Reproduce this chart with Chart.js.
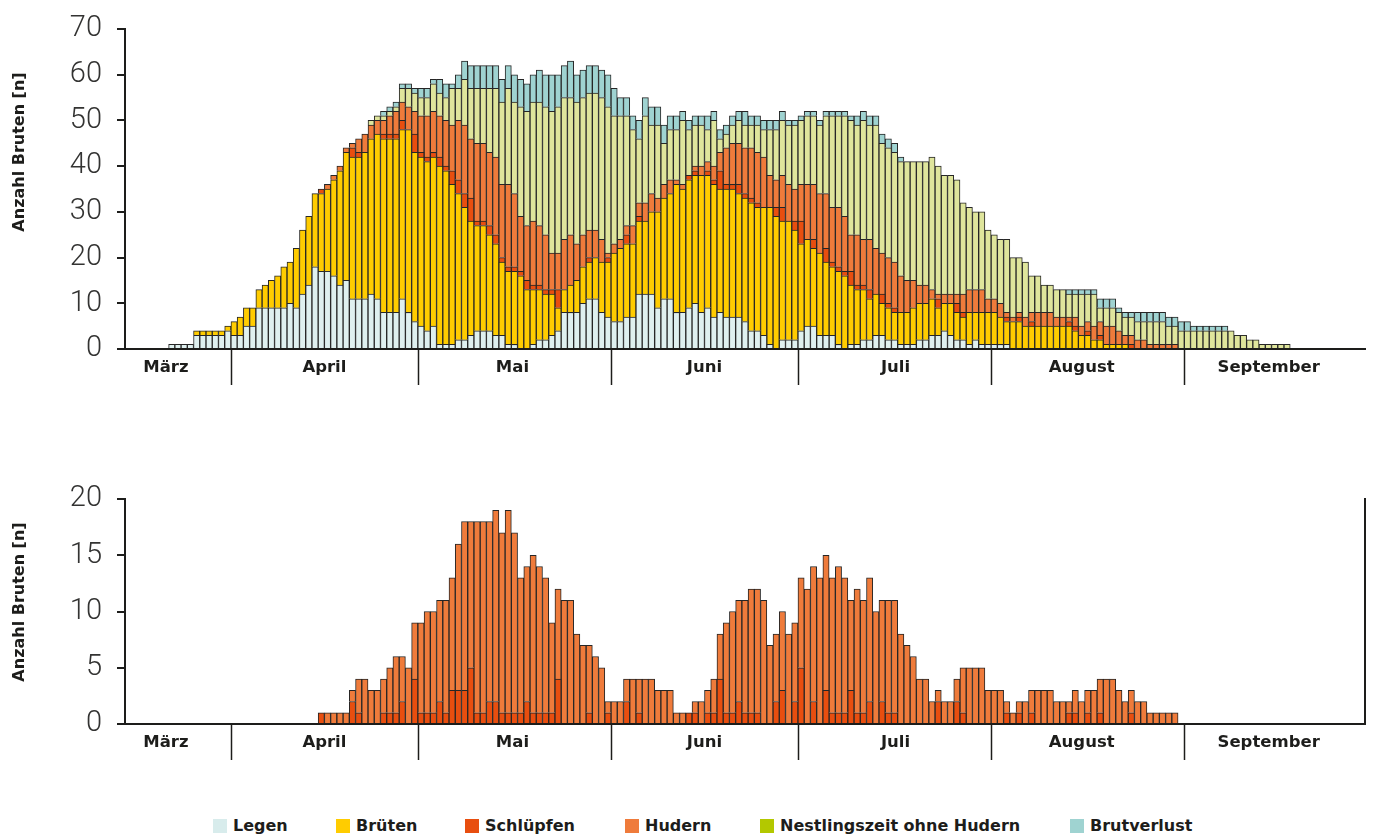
<!DOCTYPE html>
<html>
<head>
<meta charset="utf-8">
<title>Brutphasen</title>
<script src="https://cdn.jsdelivr.net/npm/chart.js"></script>
<style>
  body { margin: 0; background: #fff; width: 1373px; height: 837px; overflow: hidden; position: relative; font-family: 'DejaVu Sans', sans-serif; }
  .box { position: absolute; left: 0; width: 1373px; }
  #topBox { top: 0; height: 400px; }
  #bottomBox { top: 420px; height: 380px; }
  .item { position: absolute; top: 816px; display: flex; align-items: center; font-weight: 700; font-size: 16px; color: #1d1d1b; white-space: nowrap; }
  .sw { width: 14px; height: 14px; margin-right: 6px; }
</style>
</head>
<body>
<div class="box" id="topBox"><canvas id="topChart"></canvas></div>
<div class="box" id="bottomBox"><canvas id="bottomChart"></canvas></div>
<div id="legend"></div>

<script>
// Months shown on the axis (15 March .. 29 September, one bar per day)
const months = ['März', 'April', 'Mai', 'Juni', 'Juli', 'August', 'September'];
const monthFirstDay = [15, 1, 1, 1, 1, 1, 1];
const monthDays = [17, 30, 31, 30, 31, 31, 29];

// Number of broods per day and phase
const legen = [
  0,0,0,0,0,0,0,1,1,1, 1,3,3,3,3,3,4,3,3,5, 5,9,9,9,9,9,10,9,12,14,
  18,17,17,16,14,15,11,11,11,12, 11,8,8,8,11,8,6,5,4,5, 1,1,1,2,2,3,4,4,4,3,
  3,1,1,0,0,1,2,2,3,4, 8,8,8,10,11,11,8,7,6,6, 7,7,12,12,12,9,11,11,8,8,
  9,10,8,9,7,8,7,7,7,6, 4,4,3,1,0,2,2,2,4,5, 5,3,3,3,1,0,1,1,2,2,
  3,3,2,2,1,1,1,2,2,3, 3,4,3,2,2,1,2,1,1,1, 1,1,0,0,0,0,0,0,0,0,
  0,0,0,0,0,0,0,0,0,0, 0,0,0,0,0,0,0,0,0,0, 0,0,0,0,0,0,0,0,0,0,
  0,0,0,0,0,0,0,0,0,0, 0,0,0,0,0,0,0,0,0
];
const brueten = [
  0,0,0,0,0,0,0,0,0,0, 0,1,1,1,1,1,1,3,4,4, 4,4,5,6,7,9,9,13,14,15,
  16,17,18,21,25,28,31,31,32,34, 36,38,38,38,37,40,37,37,37,37, 39,38,35,32,29,25,23,23,21,20,
  16,16,16,16,13,12,11,10,9,5, 5,6,7,8,8,9,11,12,15,16, 16,16,16,16,18,21,22,23,28,27,
  28,28,30,29,29,27,28,28,27,27, 28,27,28,30,29,26,26,24,19,19, 17,18,16,15,16,16,13,12,11,9,
  9,7,7,6,7,7,8,8,8,8, 6,6,7,6,5,7,6,7,7,7, 6,5,6,6,5,5,5,5,5,5,
  5,5,4,3,3,2,2,1,1,1, 1,0,0,0,0,0,0,0,0,0, 0,0,0,0,0,0,0,0,0,0,
  0,0,0,0,0,0,0,0,0,0, 0,0,0,0,0,0,0,0,0
];
const schluepfen = [
  0,0,0,0,0,0,0,0,0,0, 0,0,0,0,0,0,0,0,0,0, 0,0,0,0,0,0,0,0,0,0,
  0,1,0,0,0,0,2,1,0,0, 0,1,1,1,2,0,4,1,1,1, 2,1,3,3,3,5,1,1,2,2,
  1,1,1,1,2,1,1,1,1,4, 0,0,0,0,1,0,0,1,0,0, 2,0,1,0,0,0,0,0,0,0,
  1,1,0,1,1,4,1,1,2,1, 1,1,0,0,2,3,0,2,5,0, 2,0,3,1,1,1,3,1,1,2,
  0,2,1,1,0,0,0,0,0,0, 2,0,0,2,1,0,0,0,0,0, 0,1,0,1,0,1,0,0,0,0,
  0,1,1,0,1,0,1,0,0,0, 0,1,0,0,0,0,0,0,0,0, 0,0,0,0,0,0,0,0,0,0,
  0,0,0,0,0,0,0,0,0,0, 0,0,0,0,0,0,0,0,0
];
const hudern = [
  0,0,0,0,0,0,0,0,0,0, 0,0,0,0,0,0,0,0,0,0, 0,0,0,0,0,0,0,0,0,0,
  0,0,1,1,1,1,1,3,4,3, 3,3,4,5,4,5,5,8,9,9, 9,10,10,13,15,13,17,17,16,17,
  16,18,16,12,12,14,13,12,8,8, 11,11,8,7,6,6,5,1,2,2, 2,4,3,4,4,3,3,3,1,1,
  0,1,2,2,3,4,8,9,9,10, 11,11,11,7,6,7,8,7,8,12, 12,13,12,12,13,12,8,11,10,11,
  10,9,10,10,8,7,6,4,4,2, 1,2,2,2,4,5,5,5,3,3, 3,1,1,1,2,2,3,3,3,2,
  2,1,2,2,2,3,3,4,4,3, 2,2,2,2,1,1,1,1,1,0, 0,0,0,0,0,0,0,0,0,0,
  0,0,0,0,0,0,0,0,0,0, 0,0,0,0,0,0,0,0,0
];
const nestling = [
  0,0,0,0,0,0,0,0,0,0, 0,0,0,0,0,0,0,0,0,0, 0,0,0,0,0,0,0,0,0,0,
  0,0,0,0,0,0,0,0,0,1, 1,1,1,1,3,4,4,4,4,6, 5,5,8,7,10,11,12,12,14,15,
  18,21,20,24,25,26,27,28,31,32, 31,30,31,30,30,30,31,32,28,27, 24,21,14,19,15,16,9,11,11,14,
  10,9,9,7,10,3,3,4,5,5, 5,6,6,10,11,12,13,14,14,15, 15,15,17,20,20,22,25,24,26,25,
  27,24,24,24,25,26,26,27,27,29, 28,26,26,25,20,18,17,17,15,14, 14,16,13,12,12,8,8,6,6,6,
  6,5,5,7,6,7,3,4,4,4, 4,4,4,4,5,5,5,4,4,4, 4,4,4,4,4,4,4,4,3,3,
  2,2,1,1,1,1,1,0,0,0, 0,0,0,0,0,0,0,0,0
];
const brutverlust = [
  0,0,0,0,0,0,0,0,0,0, 0,0,0,0,0,0,0,0,0,0, 0,0,0,0,0,0,0,0,0,0,
  0,0,0,0,0,0,0,0,0,0, 0,1,1,1,1,1,1,2,2,1, 3,3,1,3,4,5,5,5,5,5,
  5,5,6,6,6,6,7,7,8,7, 7,8,6,6,6,6,6,7,6,4, 4,3,4,4,4,4,4,3,3,2,
  2,2,2,3,2,2,2,2,2,3, 2,2,2,2,2,2,1,1,1,1, 1,1,1,1,1,1,1,2,2,2,
  2,2,2,2,1,0,0,0,0,0, 0,0,0,0,0,0,0,0,0,0, 0,0,0,0,0,0,0,0,0,0,
  0,1,1,1,1,1,2,2,2,1, 1,1,2,2,2,2,2,2,2,2, 2,1,1,1,1,1,1,0,0,0,
  0,0,0,0,0,0,0,0,0,0, 0,0,0,0,0,0,0,0,0
];

const topTicks = [0, 10, 20, 30, 40, 50, 60, 70];
const bottomTicks = [0, 5, 10, 15, 20];

const colors = {
  legen: '#dff0ef',
  brueten: '#ffcc00',
  schluepfen: '#e84e0f',
  hudern: '#ef7b3b',
  nestling: '#dfe59c',
  brutverlust: '#9fd3d1'
};
const ink = '#1d1d1b';
const boldFont = 'bold 16.5px "DejaVu Sans", sans-serif';
// small nudges of the month names (px), März sits left of its span
const monthLabelShift = [-12, 0, -2, 0, 1, -6, -6];

// day labels built from the month table
const days = [];
months.forEach((m, k) => {
  for (let d = 0; d < monthDays[k]; d++) days.push((monthFirstDay[k] + d) + '. ' + m);
});

// month labels, separators, x axis line and the y title
const monthAxis = {
  id: 'monthAxis',
  afterDraw(chart, args, opts) {
    const { ctx, chartArea: a, scales: { x } } = chart;
    const band = (a.right - a.left) / days.length;
    ctx.save();
    ctx.strokeStyle = ink;
    ctx.lineWidth = 2;
    ctx.beginPath();
    ctx.moveTo(a.left - 8, a.bottom);
    ctx.lineTo(a.right + 1, a.bottom);
    if (opts.frameRight) {
      ctx.moveTo(a.right, a.bottom);
      ctx.lineTo(a.right, a.top - 1);
    }
    ctx.stroke();

    ctx.font = boldFont;
    ctx.fillStyle = ink;
    ctx.textAlign = 'center';
    ctx.textBaseline = 'middle';
    ctx.lineWidth = 1.5;
    let start = 0;
    months.forEach((m, k) => {
      const left = x.getPixelForValue(start) - band / 2;
      const right = x.getPixelForValue(start + monthDays[k] - 1) + band / 2;
      ctx.fillText(m, (left + right) / 2 + monthLabelShift[k], a.bottom + 19);
      if (k > 0) {
        ctx.beginPath();
        ctx.moveTo(Math.round(left) + 0.5, a.bottom);
        ctx.lineTo(Math.round(left) + 0.5, a.bottom + 36);
        ctx.stroke();
      }
      start += monthDays[k];
    });

    ctx.translate(20, opts.titleY);
    ctx.rotate(-Math.PI / 2);
    ctx.font = 'bold 16px "DejaVu Sans", sans-serif';
    ctx.fillText('Anzahl Bruten [n]', 0, 0);
    ctx.restore();
  }
};

function ds(label, values, color) {
  return {
    label: label,
    data: values.map(v => v || null),
    backgroundColor: color,
    borderColor: '#262626',
    borderWidth: 1,
    barPercentage: 1,
    categoryPercentage: 1
  };
}

function makeChart(id, datasets, ticks, padding, titleY, frameRight) {
  return new Chart(document.getElementById(id), {
    type: 'bar',
    data: { labels: days, datasets: datasets },
    options: {
      responsive: true,
      maintainAspectRatio: false,
      animation: false,
      layout: { padding: padding },
      plugins: {
        legend: { display: false },
        tooltip: { enabled: false },
        monthAxis: { titleY: titleY, frameRight: frameRight }
      },
      scales: {
        x: { stacked: true, display: false, offset: true },
        y: {
          stacked: true,
          min: ticks[0],
          max: ticks[ticks.length - 1],
          afterBuildTicks(scale) { scale.ticks = ticks.map(v => ({ value: v })); },
          afterFit(scale) {
            scale.width = 125;
            scale.paddingTop = 0;
            scale.paddingBottom = 0;
          },
          ticks: {
            color: '#333332',
            padding: 15,
            font: { family: 'Roboto', size: 29, weight: 300 }
          },
          grid: { display: true, drawOnChartArea: false, drawTicks: true, tickLength: 8, color: ink, lineWidth: 2 },
          border: { display: true, color: ink, width: 2 }
        }
      }
    },
    plugins: [monthAxis]
  });
}

makeChart('topChart', [
  ds('Legen', legen, colors.legen),
  ds('Brüten', brueten, colors.brueten),
  ds('Schlüpfen', schluepfen, colors.schluepfen),
  ds('Hudern', hudern, colors.hudern),
  ds('Nestlingszeit ohne Hudern', nestling, colors.nestling),
  ds('Brutverlust', brutverlust, colors.brutverlust)
], topTicks, { top: 29, bottom: 51, left: 0, right: 8 }, 152, false);

makeChart('bottomChart', [
  ds('Schlüpfen', schluepfen, colors.schluepfen),
  ds('Hudern', hudern, colors.hudern)
], bottomTicks, { top: 79, bottom: 76, left: 0, right: 8 }, 182, true);

// legend under both charts
const legendItems = [
  { label: 'Legen', color: '#d8ecec', x: 213 },
  { label: 'Brüten', color: '#ffcc00', x: 336 },
  { label: 'Schlüpfen', color: '#e84e0f', x: 465 },
  { label: 'Hudern', color: '#ef7b3b', x: 625 },
  { label: 'Nestlingszeit ohne Hudern', color: '#b3c800', x: 760 },
  { label: 'Brutverlust', color: '#9fd3d1', x: 1070 }
];
const legendEl = document.getElementById('legend');
legendItems.forEach(it => {
  const d = document.createElement('div');
  d.className = 'item';
  d.style.left = it.x + 'px';
  d.innerHTML = '<span class="sw" style="background:' + it.color + '"></span>' + it.label;
  legendEl.appendChild(d);
});
</script>
</body>
</html>
